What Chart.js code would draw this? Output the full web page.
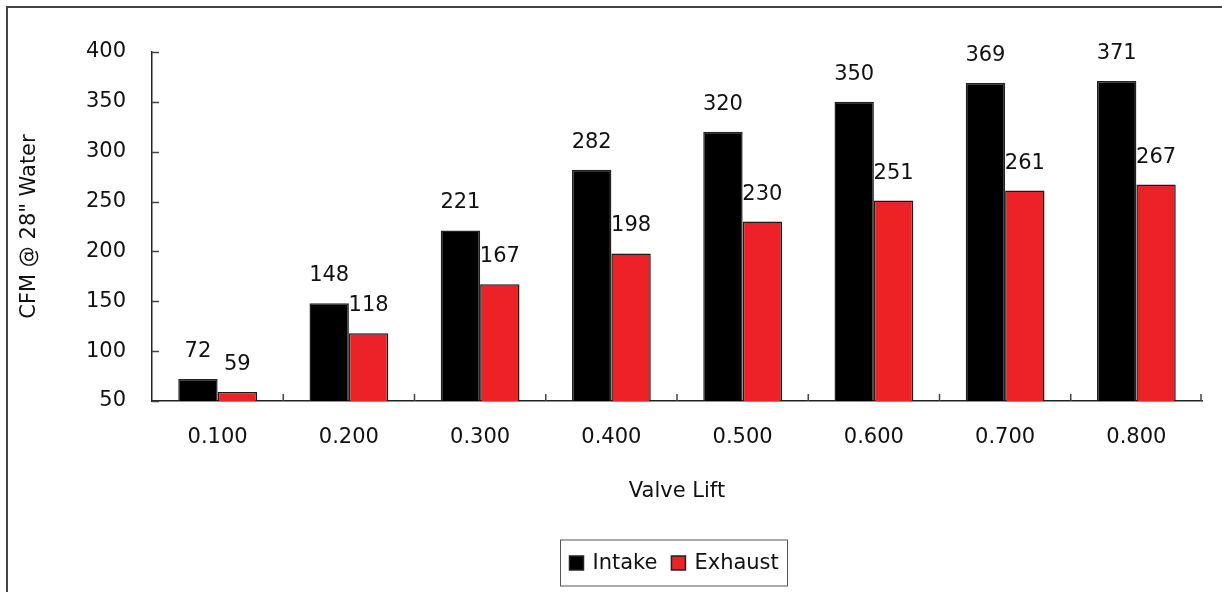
<!DOCTYPE html>
<html>
<head>
<meta charset="utf-8">
<script src="https://cdn.jsdelivr.net/npm/chart.js@4.4.1/dist/chart.umd.min.js"></script>
<style>
  html, body { margin: 0; padding: 0; background: #fff; }
  #wrap { position: relative; width: 1222px; height: 592px; }
  #frame { position: absolute; left: 6px; top: 6px; width: 1214px; height: 600px;
           border: 2px solid #444; border-bottom: none; pointer-events: none; }
</style>
</head>
<body>
<div id="wrap">
  <canvas id="chart" width="1222" height="592"></canvas>
  <div id="frame"></div>
</div>
<script>
var lifts   = ['0.100', '0.200', '0.300', '0.400', '0.500', '0.600', '0.700', '0.800'];
var intake  = [72, 148, 221, 282, 320, 350, 369, 371];
var exhaust = [59, 118, 167, 198, 230, 251, 261, 267];
var yTicks  = [50, 100, 150, 200, 250, 300, 350, 400];

var FONT = '"DejaVu Sans", Verdana, sans-serif';

// value labels above every bar
var barLabels = {
	id: 'barLabels',
	afterDatasetsDraw: function(chart) {
		var ctx = chart.ctx;
		ctx.save();
		ctx.font = '21px ' + FONT;
		ctx.fillStyle = '#111';
		ctx.textAlign = 'center';
		ctx.textBaseline = 'alphabetic';
		chart.data.datasets.forEach(function(ds, di) {
			chart.getDatasetMeta(di).data.forEach(function(bar, i) {
				ctx.fillText(ds.data[i], bar.x, bar.y - 22);
			});
		});
		ctx.restore();
	}
};

// small tick marks pointing into the plot
var innerTicks = {
	id: 'innerTicks',
	afterDraw: function(chart) {
		var ctx = chart.ctx;
		var x = chart.scales.x, y = chart.scales.y;
		var area = chart.chartArea;
		ctx.save();
		ctx.strokeStyle = '#444';
		ctx.lineWidth = 1.5;
		ctx.beginPath();
		yTicks.forEach(function(v) {
			var py = Math.round(y.getPixelForValue(v)) + 0.5;
			ctx.moveTo(area.left, py);
			ctx.lineTo(area.left + 7, py);
		});
		for (var i = 1; i <= lifts.length; i++) {
			var px;
			if (i === lifts.length) {
				px = area.right - 1;
			} else {
				px = (x.getPixelForValue(i - 1) + x.getPixelForValue(i)) / 2;
			}
			ctx.moveTo(px, area.bottom);
			ctx.lineTo(px, area.bottom - 7);
		}
		ctx.stroke();
		ctx.restore();
	}
};

// boxed legend under the axis title
var boxLegend = {
	id: 'boxLegend',
	afterDraw: function(chart) {
		var ctx = chart.ctx;
		var area = chart.chartArea;
		var sets = chart.data.datasets;
		ctx.save();
		ctx.font = '21px ' + FONT;
		var sq = 14, gapText = 9, gapItem = 14, pad = 9;
		var total = pad * 2;
		sets.forEach(function(ds, i) {
			total += sq + gapText + ctx.measureText(ds.label).width;
			if (i < sets.length - 1) total += gapItem;
		});
		var cx = (area.left + area.right) / 2 - 3;
		var cy = 563;
		var left = Math.round(cx - total / 2) + 0.5;
		ctx.strokeStyle = '#555';
		ctx.lineWidth = 1;
		ctx.strokeRect(left, cy - 23, Math.round(total), 46);
		var px = left + pad;
		ctx.textBaseline = 'middle';
		ctx.textAlign = 'left';
		sets.forEach(function(ds) {
			ctx.fillStyle = ds.backgroundColor;
			ctx.fillRect(px, cy - 7, sq, sq);
			ctx.strokeStyle = '#222';
			ctx.lineWidth = 1.5;
			ctx.strokeRect(px, cy - 7, sq, sq);
			px += sq + gapText;
			ctx.fillStyle = '#111';
			ctx.fillText(ds.label, px, cy + 1);
			px += ctx.measureText(ds.label).width + gapItem;
		});
		ctx.restore();
	}
};

var ctx = document.getElementById('chart');
var flowChart = new Chart(ctx, {
	type: 'bar',
	data: {
		labels: lifts,
		datasets: [
			{
				label: 'Intake',
				data: intake,
				backgroundColor: '#000000',
				borderColor: '#222222',
				borderWidth: 1.5,
				categoryPercentage: 0.6,
				barPercentage: 1.0
			},
			{
				label: 'Exhaust',
				data: exhaust,
				backgroundColor: '#ed2227',
				borderColor: '#1a1a1a',
				borderWidth: 1.5,
				categoryPercentage: 0.6,
				barPercentage: 1.0
			}
		]
	},
	options: {
		responsive: false,
		animation: false,
		events: [],
		layout: { padding: { left: 0, right: 20, top: 52, bottom: 0 } },
		plugins: {
			legend: { display: false },
			tooltip: { enabled: false }
		},
		scales: {
			x: {
				grid: { drawOnChartArea: false, drawTicks: false },
				border: { display: true, color: '#222', width: 1.5 },
				ticks: { color: '#111', font: { family: FONT, size: 21 }, padding: 24, maxRotation: 0 },
				title: { display: true, text: 'Valve Lift', color: '#111',
					font: { family: FONT, size: 21 }, padding: { top: 0, bottom: 88 } },
				afterFit: function(scale) { scale.height = 191; }
			},
			y: {
				min: 50,
				max: 400,
				grid: { drawOnChartArea: false, drawTicks: false },
				border: { display: true, color: '#222', width: 1.5 },
				ticks: { stepSize: 50, color: '#111', font: { family: FONT, size: 21 }, padding: 26 },
				title: { display: true, text: 'CFM @ 28" Water', color: '#111',
					font: { family: FONT, size: 21 }, padding: { top: 17, bottom: 0 } },
				afterFit: function(scale) { scale.width = 152; }
			}
		}
	},
	plugins: [barLabels, innerTicks, boxLegend]
});
</script>
</body>
</html>
